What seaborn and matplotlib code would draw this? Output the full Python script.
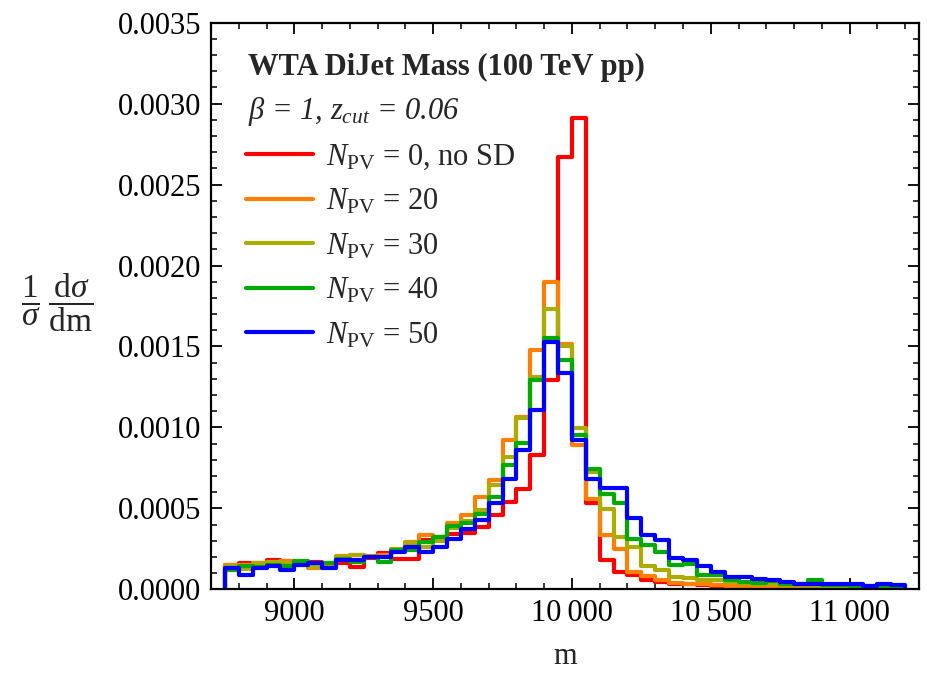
import numpy as np
import pandas as pd
import matplotlib
matplotlib.use("Agg")
import matplotlib.pyplot as plt
import seaborn as sns
from matplotlib.ticker import MultipleLocator, FixedLocator, FuncFormatter

# ---- data (bin lower edges 8750 ... 11150, width 50; values in units of 1e-4) ----
edges = np.arange(8750, 11201, 50)

npv0_noSD = [1.50, 1.60, 1.65, 1.80, 1.77, 1.65, 1.70, 1.55, 1.65, 1.38,
             1.92, 2.22, 1.90, 1.90, 3.03, 3.20, 3.44, 3.46, 3.85, 4.57,
             5.40, 6.22, 8.28, 12.92, 26.68, 29.09, 5.30, 1.79, 1.07, 0.87,
             0.60, 0.45, 0.35, 0.30, 0.25, 0.20, 0.18, 0.15, 0.13, 0.12,
             0.10, 0.10, 0.09, 0.08, 0.07, 0.07, 0.06, 0.05, 0.05]
npv20 = [1.50, 1.50, 1.65, 1.60, 1.77, 1.70, 1.33, 1.57, 2.06, 2.14,
         2.05, 2.10, 2.43, 2.92, 3.34, 3.20, 4.10, 4.57, 5.70, 6.74,
         9.20, 10.65, 14.80, 19.00, 15.18, 8.90, 5.60, 3.34, 2.51, 1.07,
         0.80, 0.56, 0.40, 0.35, 0.30, 0.25, 0.22, 0.20, 0.18, 0.15,
         0.14, 0.12, 0.11, 0.10, 0.09, 0.08, 0.07, 0.06, 0.06]
npv30 = [1.45, 1.25, 1.65, 1.70, 1.60, 1.50, 1.36, 1.60, 2.00, 2.10,
         2.00, 2.00, 2.48, 2.88, 2.60, 3.00, 3.80, 4.20, 4.88, 6.43,
         8.18, 10.55, 13.10, 17.29, 15.00, 9.95, 7.25, 4.93, 3.23, 2.60,
         1.42, 1.22, 0.76, 0.70, 0.60, 0.55, 0.45, 0.40, 0.35, 0.30,
         0.28, 0.25, 0.22, 0.20, 0.18, 0.15, 0.12, 0.10, 0.10]
npv40 = [1.20, 1.45, 1.40, 1.50, 1.45, 1.75, 1.60, 1.60, 1.90, 1.68,
         2.00, 1.70, 2.43, 2.40, 2.90, 3.20, 3.90, 4.10, 4.68, 5.70,
         7.66, 9.06, 12.90, 15.50, 14.15, 9.52, 7.46, 5.87, 5.30, 3.13,
         2.76, 2.30, 1.48, 1.59, 0.87, 0.87, 0.60, 0.45, 0.40, 0.50,
         0.30, 0.35, 0.55, 0.25, 0.25, 0.20, 0.20, 0.15, 0.15]
npv50 = [1.33, 0.91, 1.33, 1.44, 1.20, 1.49, 1.61, 1.33, 1.81, 1.81,
         1.98, 1.98, 2.33, 2.60, 2.30, 2.64, 3.10, 3.70, 4.26, 5.30,
         6.84, 8.59, 11.06, 15.28, 13.37, 9.25, 6.84, 6.25, 6.25, 4.40,
         3.34, 3.07, 1.96, 1.79, 1.42, 1.07, 0.76, 0.78, 0.66, 0.60,
         0.45, 0.35, 0.31, 0.31, 0.31, 0.31, 0.19, 0.30, 0.25]

series = [npv0_noSD, npv20, npv30, npv40, npv50]
labels = [r"$N_{\mathrm{PV}}$ = 0, no SD", r"$N_{\mathrm{PV}}$ = 20",
          r"$N_{\mathrm{PV}}$ = 30", r"$N_{\mathrm{PV}}$ = 40",
          r"$N_{\mathrm{PV}}$ = 50"]
colors = ["#FF0000", "#FF8000", "#ABAB00", "#00AA00", "#0000FF"]

x_ticks = [9000, 9500, 10000, 10500, 11000]
title_text = "WTA DiJet Mass (100 TeV pp)"
param_text = r"$\beta$ = 1, $z_{cut}$ = 0.06"

# ---- style ----
sns.set_style("ticks")
plt.rcParams["font.family"] = ["Liberation Serif", "DejaVu Serif"]
plt.rcParams["mathtext.fontset"] = "custom"
plt.rcParams["mathtext.rm"] = "Liberation Serif"
plt.rcParams["mathtext.it"] = "Liberation Serif:italic"
plt.rcParams["mathtext.bf"] = "Liberation Serif:bold"

rows = []
for lab, vals in zip(labels, series):
    xs = np.concatenate([[edges[0]], edges[:-1], [edges[-1]]])
    ys = np.concatenate([[0.0], np.asarray(vals) * 1e-4, [0.0]])
    for xv, yv in zip(xs, ys):
        rows.append({"m": xv, "v": yv, "series": lab})
df = pd.DataFrame(rows)

fig = plt.figure(figsize=(9.28, 6.73), dpi=100)
ax = fig.add_axes([0.2274, 0.1244, 0.7629, 0.8419])

sns.lineplot(data=df, x="m", y="v", hue="series", hue_order=labels,
             palette=colors, estimator=None, sort=False,
             drawstyle="steps-post", linewidth=3.0, ax=ax, legend=True)

ax.set_xlim(8700, 11250)
ax.set_ylim(0, 0.0035)

ax.xaxis.set_major_locator(FixedLocator(x_ticks))
ax.xaxis.set_minor_locator(MultipleLocator(100))
ax.xaxis.set_major_formatter(FuncFormatter(
    lambda v, p: (f"{v:,.0f}".replace(",", "\u2009") if v >= 10000 else f"{v:.0f}")))
ax.yaxis.set_major_locator(MultipleLocator(0.0005))
ax.yaxis.set_minor_locator(MultipleLocator(0.0001))
ax.yaxis.set_major_formatter(FuncFormatter(lambda v, p: f"{v:.4f}"))

ax.tick_params(which="both", direction="in", top=True, right=True,
               labelsize=22, colors="black")
ax.tick_params(which="major", length=8, width=1.3, pad=7)
ax.tick_params(which="minor", length=4, width=1.1)
for s in ax.spines.values():
    s.set_linewidth(1.6)
    s.set_color("black")

ax.set_xlabel("m", fontsize=22, va="center")
ax.xaxis.set_label_coords(0.5, -0.118)
ax.set_ylabel(r"$\dfrac{1}{\sigma}\;\dfrac{\mathrm{d}\sigma}{\mathrm{dm}}$",
              fontsize=24, rotation=0, ha="center", va="center")
ax.yaxis.set_label_coords(-0.2175, 0.505)

ax.text(0.0523, 0.9077, title_text, transform=ax.transAxes, fontsize=22,
        fontweight="bold", ha="left", va="baseline")
ax.text(0.0523, 0.830, param_text, transform=ax.transAxes, fontsize=22,
        style="italic", ha="left", va="baseline")

handles, labs = ax.get_legend_handles_labels()
leg = ax.legend(handles=handles, labels=labs, loc="upper left",
                bbox_to_anchor=(0.0495, 0.788), frameon=False, fontsize=22,
                handlelength=2.19, handletextpad=0.42, labelspacing=0.49,
                borderpad=0, borderaxespad=0)
for h in leg.get_lines():
    h.set_linewidth(3.0)

fig.savefig("out.png", dpi=100)
